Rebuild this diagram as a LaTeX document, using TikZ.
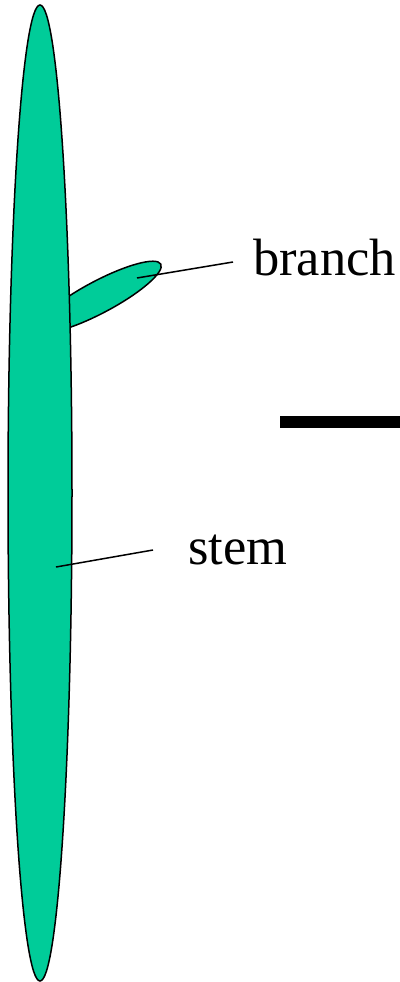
\documentclass[tikz,border=0pt]{standalone}
\usepackage{fontspec}
\setmainfont{Liberation Serif}
\definecolor{leaf}{HTML}{00CC99}
\begin{document}
\begin{tikzpicture}[x=1pt,y=-1pt,
  part/.style={draw=black,fill=leaf,line width=1.5pt},
  leader/.style={draw=black,line width=1.5pt},
  lbl/.style={anchor=base west,inner sep=0pt,font=\fontsize{52.5}{60}\selectfont}]
\useasboundingbox (0,0) rectangle (399,982);
% branch (behind stem)
\coordinate (bc) at (99,297);
\draw[part,rotate around={28:(bc)}] (bc) ellipse [x radius=70, y radius=16];
% stem
\coordinate (sc) at (40,493);
\draw[part] (sc) ellipse [x radius=32, y radius=488];
% labels
\node[lbl] (branch) at (253,275) {branch};
\node[lbl] (stem) at (188,564) {stem};
\coordinate (bp) at (137,278);
\coordinate (bl) at (233,262);
\coordinate (sp) at (56,567);
\coordinate (sl) at (153,550);
\draw[leader] (bp) -- (bl);
\draw[leader] (sp) -- (sl);
% bar
\coordinate (barL) at (280,422);
\coordinate (barR) at (402,422);
\draw[line width=12pt] (barL) -- (barR);
\end{tikzpicture}
\end{document}
